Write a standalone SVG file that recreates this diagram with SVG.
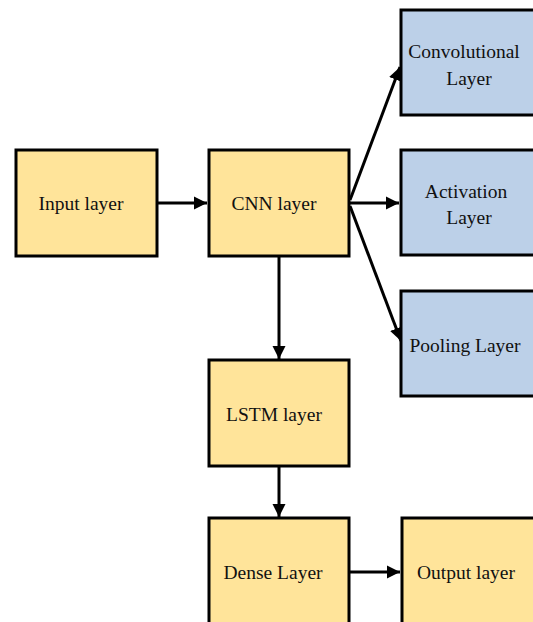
<svg xmlns="http://www.w3.org/2000/svg" width="533" height="622" viewBox="0 0 533 622">
  <style>
    .y { fill: #FFE49A; stroke: #000; stroke-width: 3; }
    .b { fill: #BCD0E8; stroke: #000; stroke-width: 3; }
    text { font-family: "Liberation Serif", "Times New Roman", serif; font-size: 19.5px; fill: #111; text-anchor: middle; }
    .c { stroke: #000; stroke-width: 3; fill: none; marker-end: url(#ah); }
  </style>
  <defs>
    <marker id="ah" viewBox="0 0 10 10" refX="10" refY="5" markerWidth="4.4" markerHeight="4.4" markerUnits="strokeWidth" orient="auto">
      <path d="M0,0 L10,5 L0,10 z" fill="#000"/>
    </marker>
  </defs>
  <rect width="533" height="622" fill="#fff"/>
  <g id="connectors">
    <line class="c" x1="157" y1="203" x2="207" y2="203"/>
    <line class="c" x1="350" y1="200" x2="400" y2="67"/>
    <line class="c" x1="350" y1="203" x2="399" y2="203"/>
    <line class="c" x1="350" y1="206" x2="401" y2="341"/>
    <line class="c" x1="279" y1="256" x2="279" y2="359"/>
    <line class="c" x1="279" y1="466" x2="279" y2="517"/>
    <line class="c" x1="349" y1="572" x2="400" y2="572"/>
  </g>
  <g id="input">
    <rect class="y" x="16" y="150" width="141" height="106"/>
    <text x="81" y="210">Input layer</text>
  </g>
  <g id="cnn">
    <rect class="y" x="209" y="150" width="140" height="106"/>
    <text x="274" y="210">CNN layer</text>
  </g>
  <g id="conv">
    <rect class="b" x="401" y="10" width="140" height="105"/>
    <text x="464" y="58">Convolutional</text>
    <text x="469" y="85">Layer</text>
  </g>
  <g id="activation">
    <rect class="b" x="401" y="150" width="140" height="105"/>
    <text x="466" y="198">Activation</text>
    <text x="469" y="224">Layer</text>
  </g>
  <g id="pooling">
    <rect class="b" x="401" y="291" width="140" height="105"/>
    <text x="465" y="352">Pooling Layer</text>
  </g>
  <g id="lstm">
    <rect class="y" x="209" y="360" width="140" height="106"/>
    <text x="274" y="421">LSTM layer</text>
  </g>
  <g id="dense">
    <rect class="y" x="209" y="518" width="140" height="110"/>
    <text x="273" y="579">Dense Layer</text>
  </g>
  <g id="output">
    <rect class="y" x="402" y="518" width="140" height="110"/>
    <text x="466" y="579">Output layer</text>
  </g>
</svg>
